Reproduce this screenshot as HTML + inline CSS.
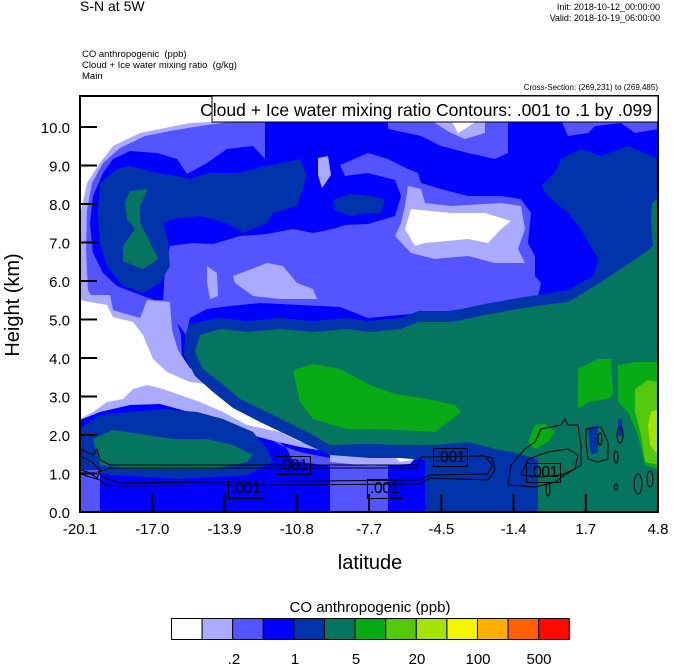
<!DOCTYPE html>
<html><head><meta charset="utf-8"><style>
body{margin:0;background:#fff;width:674px;height:668px;position:relative;overflow:hidden;font-family:"Liberation Sans",sans-serif;color:#000}
.t{position:absolute;white-space:nowrap}
.lbl{position:absolute;border:1px solid #000;font-size:16px;line-height:17px;box-sizing:border-box;text-align:center;letter-spacing:-0.5px}
</style></head><body>
<div class="t" style="left:80px;top:-2px;font-size:14px">S-N at 5W</div>
<div class="t" style="right:14px;top:2px;font-size:9px;text-align:right;line-height:11px">Init: 2018-10-12_00:00:00<br>Valid: 2018-10-19_06:00:00</div>
<div class="t" style="left:82px;top:49px;font-size:9.5px;line-height:11px">CO anthropogenic &nbsp;(ppb)<br>Cloud + Ice water mixing ratio &nbsp;(g/kg)<br>Main</div>
<div class="t" style="right:16px;top:83px;font-size:8px">Cross-Section: (269,231) to (269,485)</div>

<svg style="position:absolute;left:0;top:0" width="674" height="668">
<defs><clipPath id="c"><rect x="80" y="96" width="578" height="416"/></clipPath></defs>
<g clip-path="url(#c)">
<rect x="80" y="96" width="578" height="416" fill="#0000ff"/>
<!-- top-left purple -->
<path fill="#5555ff" d="M80,96 L265,96 L265,159 L253,146 L227,149 L207,163 L187,174 L177,159 L157,153 L130,151 L113,159 L103,173 L93,196 L90,223 L93,253 L103,273 L117,286 L143,296 L163,303 L170,310 L80,310 Z"/>
<path fill="#aaaaff" d="M80,96 L260,96 L260,120 L230,122 L200,126 L170,131 L145,136 L120,148 L103,163 L92,183 L87,210 L86,250 L88,290 L95,302 L80,302 Z"/>
<path fill="#fff" d="M80,96 L213,96 L213,122 L190,123 L160,129 L140,133 L113,146 L100,163 L87,183 L82,206 L80,216 Z"/>
<!-- top middle purple -->
<path fill="#5555ff" d="M388,120 L508,120 L508,153 L495,159 L468,153 L441,146 L421,136 L388,129 Z"/>
<path fill="#aaaaff" d="M435,120 L485,120 L485,133 L465,139 L451,133 L435,123 Z"/>
<path fill="#fff" d="M451,120 L478,120 L465,129 L458,133 Z"/>
<path fill="#5555ff" d="M561,120 L658,120 L658,129 L635,133 L621,123 L595,126 L588,133 L568,136 Z"/>
<!-- big middle purple -->
<path fill="#5555ff" d="M170,246 L193,243 L213,244 L240,236 L267,234 L293,229 L313,233 L333,229 L345,225 L368,224 L395,216 L401,196 L395,180 L368,173 L345,176 L340,165 L368,153 L388,159 L408,169 L418,173 L421,183 L441,189 L468,196 L501,196 L521,199 L531,213 L528,243 L535,256 L535,276 L541,283 L538,296 L535,306 L501,302 L470,309 L435,312 L400,315 L368,318 L340,307 L300,305 L260,303 L230,306 L207,309 L190,318 L186,335 L175,320 L163,300 L165,270 Z"/>
<path fill="#aaaaff" d="M207,266 L217,273 L218,296 L210,299 L207,283 Z"/>
<path fill="#aaaaff" d="M233,276 L267,263 L283,266 L297,283 L313,289 L317,299 L280,299 L253,296 L235,283 Z"/>
<path fill="#aaaaff" d="M318,158 L328,156 L331,175 L322,188 L318,175 Z"/>
<path fill="#aaaaff" d="M408,186 L421,189 L425,203 L451,206 L501,203 L521,206 L525,229 L518,249 L525,263 L495,263 L468,256 L435,259 L411,253 L395,236 L401,223 L405,206 Z"/>
<path fill="#fff" d="M411,209 L451,213 L485,213 L511,221 L501,229 L488,243 L468,239 L425,243 L415,246 L405,229 Z"/>
<!-- dark regions -->
<path fill="#0033aa" d="M100,183 L117,169 L130,166 L157,173 L177,176 L190,179 L207,173 L237,173 L267,166 L300,159 L307,176 L297,206 L273,213 L267,223 L243,233 L227,223 L200,216 L173,219 L163,223 L168,243 L170,266 L160,283 L143,293 L123,286 L107,266 L100,243 L98,216 Z"/>
<path fill="#057560" d="M130,191 L148,189 L140,206 L140,223 L147,236 L158,259 L143,269 L123,261 L123,246 L135,229 L127,219 L125,203 Z"/>
<path fill="#0033aa" d="M333,200 L350,194 L370,196 L385,199 L381,213 L368,213 L350,216 L335,210 Z"/>
<path fill="#0033aa" d="M561,159 L581,149 L601,156 L628,146 L658,159 L658,512 L538,512 L538,300 L560,296 L590,286 L598,262 L598,259 L581,229 L568,213 L548,196 L541,186 L555,173 Z"/>
<!-- lower-left purple/light/white -->
<path fill="#5555ff" d="M80,300 L170,300 L181,335 L182,360 L190,380 L205,398 L230,415 L255,430 L280,445 L300,452 L330,458 L370,460 L370,464 L330,466 L293,461 L287,449 L273,435 L253,422 L223,409 L197,402 L163,397 L130,399 L100,405 L80,419 Z"/>
<path fill="#aaaaff" d="M80,295 L110,295 L113,310 L140,318 L147,300 L170,302 L172,330 L178,350 L190,368 L215,378 L240,388 L262,400 L290,410 L312,422 L322,435 L330,447 L318,450 L300,447 L270,440 L240,432 L200,415 L160,404 L130,405 L100,412 L80,420 Z"/>
<path fill="#fff" d="M80,300 L107,305 L113,317 L133,322 L143,335 L153,359 L167,372 L190,382 L213,385 L227,395 L253,409 L267,419 L293,425 L310,435 L313,442 L300,442 L280,432 L247,425 L223,412 L200,402 L180,395 L163,389 L147,385 L133,389 L123,399 L107,402 L93,412 L80,419 Z"/>
<!-- lower-left dark + teal -->
<path fill="#0033aa" d="M80,429 L100,415 L130,412 L163,409 L197,412 L223,419 L253,432 L267,449 L273,462 L247,475 L180,479 L113,475 L80,472 Z"/>
<path fill="#057560" d="M93,439 L113,430 L147,435 L173,439 L207,439 L233,445 L253,455 L247,462 L213,469 L180,469 L130,469 L100,465 Z"/>
<rect x="80" y="470" width="20" height="42" fill="#5555ff"/>
<rect x="330" y="462" width="58" height="50" fill="#5555ff"/>
<path fill="#aaaaff" d="M330,450 L370,452 L400,452 L418,456 L410,464 L370,466 L330,462 Z"/>
<path fill="#fff" d="M396,458 L408,455 L413,460 L400,462 Z"/>
<!-- teal band + teal main -->
<path fill="#0033aa" d="M190,324 L220,318 L247,321 L280,318 L313,321 L347,318 L368,321 L401,318 L418,311 L451,311 L485,304 L518,298 L551,293 L568,290 L658,240 L658,512 L425,512 L425,460 L400,458 L370,458 L330,455 L310,446 L283,433 L260,422 L233,408 L213,392 L195,376 L184,355 L185,335 Z"/>
<path fill="#057560" d="M200,335 L220,329 L247,332 L280,329 L313,332 L347,329 L370,332 L401,329 L418,322 L451,322 L485,315 L518,309 L551,304 L568,302 L590,289 L610,276 L625,266 L640,256 L653,246 L651,220 L652,203 L658,198 L658,512 L538,512 L538,459 L511,452 L495,449 L468,442 L435,445 L401,445 L368,444 L330,445 L313,435 L287,422 L267,412 L240,399 L220,382 L203,369 L195,352 Z"/>
<!-- greens -->
<path fill="#08aa16" d="M293,370 L313,364 L340,369 L370,385 L395,394 L428,399 L455,405 L461,412 L448,422 L435,432 L401,430 L368,429 L347,429 L313,419 L300,402 Z"/>
<path fill="#08aa16" d="M578,369 L598,359 L611,359 L613,395 L608,399 L588,402 L578,409 Z"/>
<path fill="#08aa16" d="M618,365 L635,362 L658,362 L658,469 L645,465 L638,435 L628,412 L618,402 Z"/>
<path fill="#55c80e" d="M635,389 L648,380 L658,382 L658,465 L645,462 L641,435 L635,412 Z"/>
<path fill="#a5e205" d="M651,412 L658,409 L658,455 L650,445 L648,425 Z"/>
<path fill="#08aa16" d="M528,442 L535,425 L545,424 L555,432 L548,442 L535,449 Z"/>
<path fill="#0033aa" d="M588,428 L598,425 L598,452 L591,455 Z"/>
<path fill="#0033aa" d="M618,420 L622,418 L623,435 L618,436 Z"/>
<!-- contours -->
<g fill="none" stroke="#000" stroke-width="1">
<path d="M80,449 L93,455 L97,449 L100,460 L110,465 L418,465 L421,457 L485,456 L492,465 L488,474 L430,475 L420,480 L120,483 L105,478 L98,472 L110,468 L418,468"/>
<path d="M80,474 L100,480 L105,485 L125,486 L420,484 L430,478 L488,480 L495,470 L492,458 L480,455"/>
<path d="M80,456 L92,462 L100,470 L97,478 L88,472 L80,470"/>
<path d="M508,485 L511,465 L525,449 L535,442 L541,429 L561,425 L565,419 L568,425 L578,425 L581,445 L581,465 L565,475 L555,482 L535,487 Z"/>
<path d="M521,475 L528,459 L548,452 L568,449 L578,455 L575,469 L561,475 L541,477 Z"/>
<path d="M586,429 L601,427 L608,442 L608,459 L598,462 L588,459 L586,442 Z"/>
<ellipse cx="600" cy="439" rx="2" ry="6"/>
<ellipse cx="620" cy="435" rx="3" ry="8"/>
<ellipse cx="616" cy="457" rx="2" ry="6"/>
<ellipse cx="616" cy="487" rx="1.5" ry="3"/>
<ellipse cx="638" cy="484" rx="4" ry="10"/>
<ellipse cx="650" cy="479" rx="3" ry="8"/>
<ellipse cx="548" cy="489" rx="2" ry="7"/>
</g>
</g>
<rect x="80" y="96" width="578" height="416" fill="none" stroke="#000" stroke-width="2"/>
<g stroke="#000" stroke-width="2">
<line x1="80" y1="512" x2="97" y2="512"/><line x1="80" y1="473.5" x2="97" y2="473.5"/><line x1="80" y1="435" x2="97" y2="435"/><line x1="80" y1="396.5" x2="97" y2="396.5"/><line x1="80" y1="358" x2="97" y2="358"/><line x1="80" y1="319.5" x2="97" y2="319.5"/><line x1="80" y1="281" x2="97" y2="281"/><line x1="80" y1="242.5" x2="97" y2="242.5"/><line x1="80" y1="204" x2="97" y2="204"/><line x1="80" y1="165.5" x2="97" y2="165.5"/><line x1="80" y1="127" x2="97" y2="127"/>
<line x1="152.3" y1="512" x2="152.3" y2="494"/><line x1="224.5" y1="512" x2="224.5" y2="494"/><line x1="296.8" y1="512" x2="296.8" y2="494"/><line x1="369" y1="512" x2="369" y2="494"/><line x1="441.3" y1="512" x2="441.3" y2="494"/><line x1="513.5" y1="512" x2="513.5" y2="494"/><line x1="585.8" y1="512" x2="585.8" y2="494"/>
</g>
<rect x="212" y="96" width="446" height="26" fill="#fff" stroke="#000" stroke-width="1"/>
<text x="652" y="116" text-anchor="end" font-family="Liberation Sans" font-size="17.5">Cloud + Ice water mixing ratio Contours: .001 to .1 by .099</text>
<g font-family="Liberation Sans" font-size="15" text-anchor="end">
<text x="70" y="518">0.0</text><text x="70" y="479.5">1.0</text><text x="70" y="441">2.0</text><text x="70" y="402.5">3.0</text><text x="70" y="364">4.0</text><text x="70" y="325.5">5.0</text><text x="70" y="287">6.0</text><text x="70" y="248.5">7.0</text><text x="70" y="210">8.0</text><text x="70" y="171.5">9.0</text><text x="70" y="133">10.0</text>
</g>
<g font-family="Liberation Sans" font-size="15" text-anchor="middle">
<text x="80" y="534">-20.1</text><text x="152.3" y="534">-17.0</text><text x="224.5" y="534">-13.9</text><text x="296.8" y="534">-10.8</text><text x="369" y="534">-7.7</text><text x="441.3" y="534">-4.5</text><text x="513.5" y="534">-1.4</text><text x="585.8" y="534">1.7</text><text x="658" y="534">4.8</text>
</g>
<text x="370" y="569" text-anchor="middle" font-family="Liberation Sans" font-size="20">latitude</text>
<text transform="translate(19,305) rotate(-90)" text-anchor="middle" font-family="Liberation Sans" font-size="20">Height (km)</text>
<text x="370" y="612" text-anchor="middle" font-family="Liberation Sans" font-size="15">CO anthropogenic  (ppb)</text>
<g stroke="#000" stroke-width="1">
<rect x="171.5" y="618.5" width="30.6" height="21" fill="#fefefe"/>
<rect x="202.1" y="618.5" width="30.6" height="21" fill="#aaaaff"/>
<rect x="232.7" y="618.5" width="30.6" height="21" fill="#5555ff"/>
<rect x="263.3" y="618.5" width="30.6" height="21" fill="#0000ff"/>
<rect x="293.9" y="618.5" width="30.6" height="21" fill="#0033aa"/>
<rect x="324.5" y="618.5" width="30.6" height="21" fill="#057560"/>
<rect x="355.1" y="618.5" width="30.6" height="21" fill="#08aa16"/>
<rect x="385.7" y="618.5" width="30.6" height="21" fill="#55c80e"/>
<rect x="416.3" y="618.5" width="30.6" height="21" fill="#a5e205"/>
<rect x="446.9" y="618.5" width="30.6" height="21" fill="#f5f500"/>
<rect x="477.5" y="618.5" width="30.6" height="21" fill="#ffb000"/>
<rect x="508.1" y="618.5" width="30.6" height="21" fill="#ff6000"/>
<rect x="538.7" y="618.5" width="30.6" height="21" fill="#ff0a00"/>
</g>
<g font-family="Liberation Sans" font-size="15" text-anchor="middle">
<text x="234" y="664">.2</text><text x="295" y="664">1</text><text x="356" y="664">5</text><text x="417" y="664">20</text><text x="478" y="664">100</text><text x="539" y="664">500</text>
</g>
</svg>
<div class="lbl" style="left:275px;top:456px;width:36px;height:19px">.001</div>
<div class="lbl" style="left:228px;top:479px;width:36px;height:20px">.001</div>
<div class="lbl" style="left:433px;top:448px;width:35px;height:19px">.001</div>
<div class="lbl" style="left:367px;top:479px;width:35px;height:20px">.001</div>
<div class="lbl" style="left:526px;top:463px;width:35px;height:20px">.001</div>
</body></html>
